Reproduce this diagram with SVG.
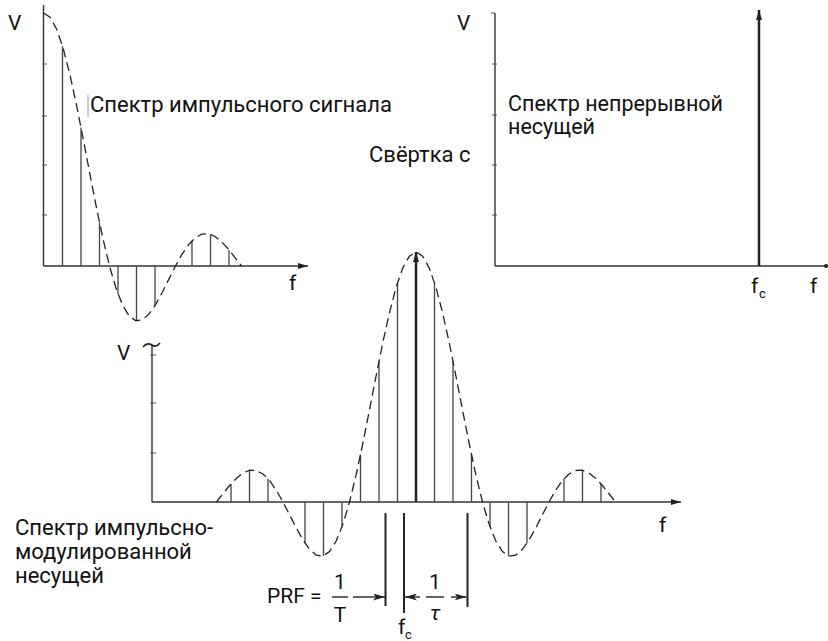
<svg xmlns="http://www.w3.org/2000/svg" width="828" height="641" viewBox="0 0 828 641">
<style>
.ax{stroke:#333;stroke-width:1.4;fill:none}
.tk{stroke:#555;stroke-width:1}
.cv{stroke:#222;stroke-width:1.3;fill:none;stroke-dasharray:9 5}
.ln{stroke:#444;stroke-width:1.3}
.bar{stroke:#222;stroke-width:2}
.t{font-family:Roboto,"Liberation Sans",sans-serif;fill:#111}
.lab{font-size:22px}
.lab2{font-size:21.5px}
.ax-t{font-size:21px}
.sub{font-size:13px}
</style>
<defs>
<marker id="ah" viewBox="0 0 10 6" refX="10" refY="3" markerWidth="10" markerHeight="6" markerUnits="userSpaceOnUse" orient="auto">
<path d="M0,0 L10,3 L0,6 z" fill="#222"/>
</marker>
<marker id="dh" viewBox="0 0 12 7" refX="12" refY="3.5" markerWidth="12" markerHeight="7" markerUnits="userSpaceOnUse" orient="auto">
<path d="M0,0 L12,3.5 L0,7 L3,3.5 z" fill="#222"/>
</marker>
</defs>

<g id="plot-pulse">
<line class="ax" x1="43.5" y1="5" x2="43.5" y2="266" stroke="#888"/>
<line class="ax" x1="43.5" y1="266" x2="308" y2="266" marker-end="url(#ah)"/>
<g class="tk">
<line x1="42" y1="64" x2="47" y2="64"/><line x1="42" y1="116" x2="47" y2="116"/>
<line x1="42" y1="165" x2="47" y2="165"/><line x1="42" y1="215" x2="47" y2="215"/>
</g>
<g class="ln">
<line x1="62.5" y1="266" x2="62.5" y2="46.1"/>
<line x1="81" y1="266" x2="81" y2="127.5"/>
<line x1="99.5" y1="266" x2="99.5" y2="222.5"/>
<line x1="118" y1="266" x2="118" y2="294.1"/>
<line x1="136.5" y1="266" x2="136.5" y2="320.9"/>
<line x1="155" y1="266" x2="155" y2="305.5"/>
<line x1="192" y1="266" x2="192" y2="240.7"/>
<line x1="210.5" y1="266" x2="210.5" y2="234.3"/>
<line x1="229" y1="266" x2="229" y2="250.1"/>
</g>
<line x1="88" y1="95" x2="88" y2="117" stroke="#999" stroke-width="1"/>
<polyline class="cv" points="43.5,13 50.1,17.1 56.7,29.3 63.3,48.8 69.9,74.5 76.5,104.9 83.1,138.3 89.7,172.9 96.3,206.8 102.9,238.4 109.5,266 116.1,288.6 122.7,305.4 129.3,316.1 135.9,320.7 142.5,319.7 149.1,313.9 155.7,304.3 162.3,292.3 168.9,279.1 175.5,266 182.1,254.2 188.7,244.5 195.3,237.7 201.9,234.1 208.5,233.8 215.1,236.5 221.7,241.9 228.3,249.1 234.9,257.4 241.5,266"/>
<text class="t ax-t" x="8" y="30">V</text>
<text class="t ax-t" x="289" y="290">f</text>
<text class="t lab" x="90" y="112">Спектр импульсного сигнала</text>
</g>

<g id="plot-carrier">
<line class="ax" x1="495" y1="13" x2="495" y2="266"/>
<line class="ax" x1="495" y1="266" x2="828" y2="266"/>
<circle cx="826" cy="266" r="2" fill="#222"/>
<g class="tk">
<line x1="491" y1="13" x2="495" y2="13"/><line x1="492" y1="64" x2="497" y2="64"/>
<line x1="492" y1="115" x2="497" y2="115"/><line x1="492" y1="165" x2="497" y2="165"/>
<line x1="492" y1="215" x2="497" y2="215"/>
</g>
<line x1="759" y1="266" x2="759" y2="10" stroke="#222" stroke-width="2.5" marker-end="url(#ah)"/>
<text class="t ax-t" x="457" y="30">V</text>
<text class="t ax-t" x="751" y="293">f</text><text class="t sub" x="759" y="298">c</text>
<text class="t ax-t" x="810" y="293">f</text>
<text class="t lab2" x="508" y="111">Спектр непрерывной</text>
<text class="t lab2" x="508" y="134">несущей</text>
</g>

<g id="conv-label">
<text class="t lab" x="369" y="162">Свёртка с</text>
</g>

<g id="plot-modulated">
<line class="ax" x1="152" y1="345" x2="152" y2="502"/>
<path d="M143,347 q4,-5 9,-2 q4,3 8,-2" fill="none" stroke="#222" stroke-width="1.6"/>
<line class="ax" x1="152" y1="502" x2="681" y2="502" marker-end="url(#ah)"/>
<g class="tk">
<line x1="150" y1="355" x2="156" y2="355"/><line x1="150" y1="403" x2="156" y2="403"/>
<line x1="150" y1="453" x2="156" y2="453"/>
</g>
<g class="ln">
<line x1="397.5" y1="502" x2="397.5" y2="282.7"/><line x1="434.5" y1="502" x2="434.5" y2="282.7"/>
<line x1="379" y1="502" x2="379" y2="361.2"/><line x1="453" y1="502" x2="453" y2="361.2"/>
<line x1="360.5" y1="502" x2="360.5" y2="454.6"/><line x1="471.5" y1="502" x2="471.5" y2="454.6"/>
<line x1="342" y1="502" x2="342" y2="526.8"/><line x1="490" y1="502" x2="490" y2="526.8"/>
<line x1="323.5" y1="502" x2="323.5" y2="555.9"/><line x1="508.5" y1="502" x2="508.5" y2="555.9"/>
<line x1="305" y1="502" x2="305" y2="543.3"/><line x1="527" y1="502" x2="527" y2="543.3"/>
<line x1="268" y1="502" x2="268" y2="478.7"/><line x1="564" y1="502" x2="564" y2="478.7"/>
<line x1="249.5" y1="502" x2="249.5" y2="470.2"/><line x1="582.5" y1="502" x2="582.5" y2="470.2"/>
<line x1="231" y1="502" x2="231" y2="483.9"/><line x1="601" y1="502" x2="601" y2="483.9"/>
</g>
<line x1="416" y1="502" x2="416" y2="252" stroke="#222" stroke-width="2.5" marker-end="url(#ah)"/>
<polyline class="cv" points="216.5,502 223.15,493.5 229.8,485.3 236.45,478.2 243.1,472.9 249.75,470.2 256.4,470.5 263.05,474 269.7,480.7 276.35,490.3 283,502 289.65,514.9 296.3,528 302.95,539.9 309.6,549.3 316.25,555.1 322.9,556.1 329.55,551.5 336.2,541 342.85,524.4 349.5,502 356.15,474.7 362.8,443.5 369.45,410 376.1,375.9 382.75,342.8 389.4,312.8 396.05,287.4 402.7,268.1 409.35,256.1 416,252 422.65,256.1 429.3,268.1 435.95,287.4 442.6,312.8 449.25,342.8 455.9,375.9 462.55,410 469.2,443.5 475.85,474.7 482.5,502 489.15,524.4 495.8,541 502.45,551.5 509.1,556.1 515.75,555.1 522.4,549.3 529.05,539.9 535.7,528 542.35,514.9 549,502 555.65,490.3 562.3,480.7 568.95,474 575.6,470.5 582.25,470.2 588.9,472.9 595.55,478.2 602.2,485.3 608.85,493.5 615.5,502"/>
<text class="t ax-t" x="117" y="360">V</text>
<text class="t ax-t" x="659" y="532">f</text>
<text class="t lab" x="15" y="535">Спектр импульсно-</text>
<text class="t lab" x="15" y="559">модулированной</text>
<text class="t lab" x="15" y="583">несущей</text>
</g>

<g id="connectors">
<line class="bar" x1="385.5" y1="513" x2="385.5" y2="606"/>
<line class="bar" x1="404" y1="513" x2="404" y2="613"/>
<line class="bar" x1="467.5" y1="513" x2="467.5" y2="607"/>
<line x1="353" y1="597" x2="385" y2="597" stroke="#222" stroke-width="1.4" marker-end="url(#dh)"/>
<line x1="420" y1="597" x2="405" y2="597" stroke="#222" stroke-width="1.4" marker-end="url(#dh)"/>
<line x1="451" y1="597" x2="466.5" y2="597" stroke="#222" stroke-width="1.4" marker-end="url(#dh)"/>
<line x1="332" y1="597" x2="348" y2="597" stroke="#222" stroke-width="1.4"/>
<line x1="426" y1="597" x2="444" y2="597" stroke="#222" stroke-width="1.4"/>
</g>

<g id="dim-labels">
<text class="t ax-t" x="267" y="603">PRF =</text>
<text class="t ax-t" x="340" y="589" text-anchor="middle">1</text>
<text class="t ax-t" x="340" y="622" text-anchor="middle">T</text>
<text class="t ax-t" x="435" y="589" text-anchor="middle">1</text>
<text class="t ax-t" x="435" y="620" text-anchor="middle" font-style="italic">τ</text>
<text class="t ax-t" x="398" y="634">f</text><text class="t sub" x="405" y="639">c</text>
</g>
</svg>
